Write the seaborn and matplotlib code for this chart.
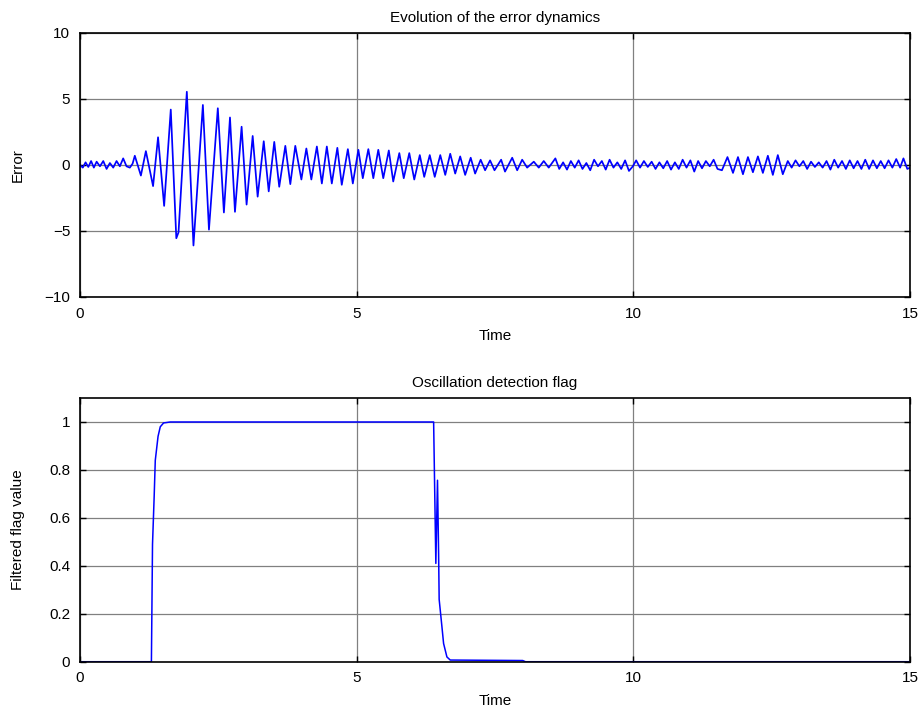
import numpy as np
import pandas as pd
import matplotlib
matplotlib.use("Agg")
import matplotlib.pyplot as plt
import seaborn as sns

# ---- data (extrema of the error trace) ----
err_time = [
    0.00, 0.05, 0.10, 0.15, 0.20, 0.25, 0.30, 0.36, 0.42, 0.48, 0.54, 0.60,
    0.66, 0.72, 0.78, 0.84, 0.90, 0.95,
    0.99, 1.10, 1.19, 1.32, 1.41, 1.52, 1.64, 1.74, 1.78, 1.93, 2.05, 2.22,
    2.33, 2.49, 2.60, 2.71, 2.80, 2.92, 3.01, 3.12, 3.21, 3.32, 3.41, 3.51,
    3.60, 3.71, 3.80, 3.89, 4.00, 4.09, 4.18, 4.28, 4.37, 4.46, 4.55, 4.65,
    4.73, 4.84, 4.93, 5.03, 5.11, 5.21, 5.30, 5.39, 5.48, 5.58, 5.66, 5.77,
    5.85, 5.95, 6.04, 6.14, 6.22, 6.32, 6.41, 6.51, 6.60, 6.69, 6.78, 6.87,
    6.96, 7.06, 7.14, 7.24, 7.32, 7.41, 7.49, 7.61, 7.68, 7.81, 7.90, 7.99,
    8.08, 8.20, 8.29, 8.38, 8.47, 8.59,
    8.66, 8.73, 8.80, 8.87, 8.94, 9.01, 9.08, 9.15, 9.22, 9.29, 9.36, 9.43,
    9.50, 9.57, 9.64, 9.71, 9.78, 9.85, 9.92, 9.99, 10.05, 10.12, 10.19,
    10.26, 10.33, 10.40, 10.47, 10.54, 10.61, 10.68, 10.75, 10.82, 10.89,
    10.96, 11.03, 11.10, 11.17, 11.24, 11.31, 11.38, 11.45, 11.52,
    11.60, 11.70, 11.80, 11.89, 11.98, 12.07, 12.16, 12.25, 12.34, 12.43,
    12.52, 12.61, 12.70, 12.79, 12.86,
    12.93, 13.00, 13.07, 13.14, 13.21, 13.28, 13.35, 13.42, 13.49, 13.56,
    13.63, 13.70, 13.77, 13.84, 13.91, 13.98, 14.05, 14.12, 14.19, 14.26,
    14.33, 14.40, 14.47, 14.54, 14.61, 14.68, 14.75, 14.82, 14.88, 14.95,
    15.00,
]
err_value = [
    0.0, -0.2, 0.2, -0.15, 0.3, -0.2, 0.25, -0.1, 0.3, -0.3, 0.15, -0.2,
    0.3, -0.1, 0.5, -0.1, -0.2, 0.1,
    0.7, -0.8, 1.05, -1.6, 2.1, -3.1, 4.2, -5.55, -5.1, 5.55, -6.1, 4.55,
    -4.9, 4.3, -3.6, 3.6, -3.55, 2.9, -3.0, 2.2, -2.4, 1.8, -2.0, 1.75,
    -1.65, 1.45, -1.45, 1.45, -1.1, 1.25, -1.1, 1.4, -1.4, 1.4, -1.4, 1.3,
    -1.5, 1.2, -1.4, 1.15, -1.0, 1.2, -1.0, 1.15, -1.0, 1.1, -1.25, 0.9,
    -1.0, 0.9, -1.1, 0.75, -0.9, 0.75, -0.9, 0.75, -0.75, 0.85, -0.65, 0.65,
    -0.75, 0.55, -0.65, 0.4, -0.4, 0.35, -0.4, 0.4, -0.5, 0.55, -0.4, 0.4,
    -0.2, 0.25, -0.2, 0.3, -0.2, 0.5,
    -0.3, 0.2, -0.35, 0.3, -0.2, 0.35, -0.3, 0.15, -0.4, 0.4, -0.1, 0.3,
    -0.35, 0.4, -0.2, 0.2, -0.3, 0.35, -0.45, -0.1, 0.35, -0.2, 0.3,
    -0.15, 0.25, -0.3, 0.2, -0.25, 0.3, -0.35, 0.2, -0.3, 0.4,
    -0.2, 0.35, -0.5, 0.3, -0.25, 0.3, -0.1, 0.4, -0.3,
    -0.4, 0.6, -0.6, 0.6, -0.7, 0.6, -0.55, 0.65, -0.6, 0.7,
    -0.75, 0.75, -0.7, 0.3, -0.2,
    0.35, -0.1, 0.3, -0.3, 0.25, -0.15, 0.2, -0.2, 0.3, -0.35,
    0.4, -0.2, 0.3, -0.3, 0.35, -0.25, 0.3, -0.3, 0.4, -0.3,
    0.35, -0.25, 0.3, -0.25, 0.35, -0.2, 0.45, -0.2, 0.5, -0.3,
    -0.2,
]

flag_time = [0.0, 1.29, 1.31, 1.34, 1.36, 1.39, 1.41, 1.45, 1.51, 1.63,
             6.39, 6.43, 6.46, 6.48, 6.49, 6.54, 6.57, 6.63, 6.69, 8.00,
             8.05, 15.0]
flag_value = [0.0, 0.0, 0.49, 0.69, 0.84, 0.90, 0.94, 0.98, 0.996, 1.0,
              1.0, 0.41, 0.757, 0.45, 0.26, 0.146, 0.076, 0.02, 0.007, 0.005,
              0.0, 0.0]

x_ticks = [0, 5, 10, 15]
err_ticks = [-10, -5, 0, 5, 10]
flag_ticks = [0, 0.2, 0.4, 0.6, 0.8, 1]
flag_tick_labels = ["0", "0.2", "0.4", "0.6", "0.8", "1"]

df_err = pd.DataFrame({"Time": err_time, "Error": err_value})
df_flag = pd.DataFrame({"Time": flag_time, "Flag": flag_value})

sns.set_theme(style="ticks")
plt.rcParams['font.family'] = ['Liberation Sans', 'DejaVu Sans']
plt.rcParams['font.size'] = 11
plt.rcParams['text.color'] = 'black'
plt.rcParams['axes.labelcolor'] = 'black'

fig = plt.figure(figsize=(9.23, 7.11), dpi=100)
ax1 = fig.add_axes([0.0867, 0.5823, 0.8993, 0.3713])
ax2 = fig.add_axes([0.0867, 0.0693, 0.8993, 0.3709])

sns.lineplot(data=df_err, x="Time", y="Error", ax=ax1, color="#0000ff",
             linewidth=1.25, sort=False, estimator=None)
sns.lineplot(data=df_flag, x="Time", y="Flag", ax=ax2, color="#0000ff",
             linewidth=1.1, sort=False, estimator=None)

def matlab_style(ax, yticks, ylim, title, ylabel):
    ax.set_xlim(0, 15)
    ax.set_ylim(*ylim)
    ax.set_xticks(x_ticks)
    ax.set_yticks(yticks)
    ax.grid(True, color="#808080", linewidth=0.9)
    ax.set_axisbelow(True)
    for s in ax.spines.values():
        s.set_visible(True)
        s.set_color("black")
        s.set_linewidth(1.2)
    ax.tick_params(direction="in", top=True, right=True, length=4,
                   width=1, labelsize=11, colors="black", pad=7)
    ax.set_title(title, fontsize=11, pad=8, color="black")
    ax.set_xlabel("Time", fontsize=11, labelpad=6, color="black")
    ax.set_ylabel(ylabel, fontsize=11, color="black")
    ax.yaxis.set_label_coords(-0.066, 0.5)

matlab_style(ax1, err_ticks, (-10, 10), "Evolution of the error dynamics", "Error")
matlab_style(ax2, flag_ticks, (0, 1.1), "Oscillation detection flag", "Filtered flag value")
ax2.set_yticklabels(flag_tick_labels)

fig.savefig("out.png", dpi=100, facecolor="white")
